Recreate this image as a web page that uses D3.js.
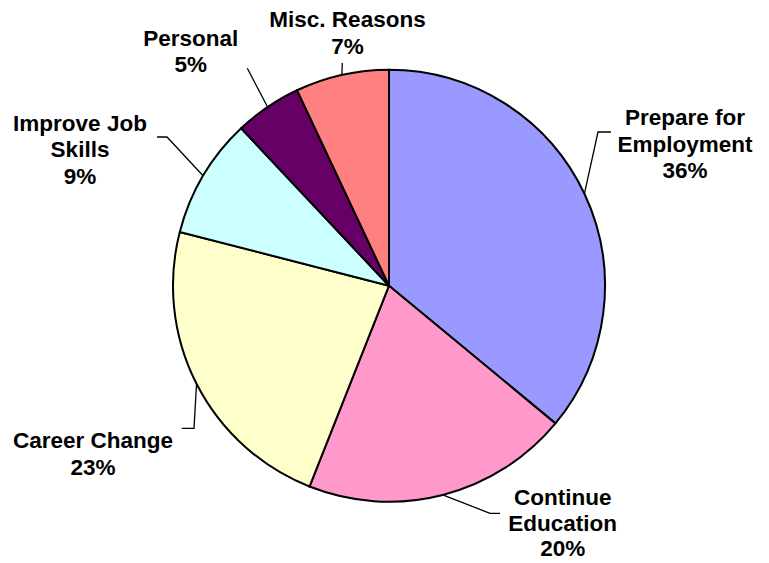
<!DOCTYPE html>
<html>
<head>
<meta charset="utf-8">
<script src="https://cdn.jsdelivr.net/npm/d3@7/dist/d3.min.js"></script>
<style>
  html, body { margin: 0; padding: 0; background: #fff; }
  svg { display: block; }
  text { font-family: "Liberation Sans", Arial, sans-serif; font-weight: bold; font-size: 22.5px; fill: #000; }
</style>
</head>
<body>
<svg id="chart" width="769" height="563"></svg>
<script>
// Data
const categories = ["Prepare for Employment", "Continue Education", "Career Change", "Improve Job Skills", "Personal", "Misc. Reasons"];
const values = [36, 20, 23, 9, 5, 7];
const labelLines = [["Prepare for", "Employment"], ["Continue", "Education"], ["Career Change"], ["Improve Job", "Skills"], ["Personal"], ["Misc. Reasons"]];
const colors = ["#9999FF", "#FF99CC", "#FFFFCC", "#CCFFFF", "#660066", "#FF8080"];

// Layout (label placement, relative to pie centre)
const W = 769, H = 563;
const cx = 389, cy = 285.7, R = 216;
const labelLayout = [
  { tx: 296, ty: -160.7, lh: 26.5, leader: [[209, -153.7], [222, -153.7]] },
  { tx: 173.7, ty: 219.5, lh: 25.5, leader: [[101, 227.6], [111, 227.6]] },
  { tx: -296, ty: 162.6, lh: 26.5, leader: [[-195, 142.6], [-207.3, 142.6]] },
  { tx: -309, ty: -155, lh: 26.5, leader: [[-222, -148.7], [-232, -148.7]] },
  { tx: -198.3, ty: -240, lh: 26.5, leader: [[-141.7, -217.4]] },
  { tx: -41.5, ty: -258.4, lh: 26.5, leader: [[-46.7, -222.7]] }
];

const svg = d3.select("#chart");
const g = svg.append("g").attr("transform", `translate(${cx},${cy})`);

const data = categories.map((c, i) => ({ name: c, value: values[i], color: colors[i], lines: labelLines[i], layout: labelLayout[i] }));

const pie = d3.pie().sort(null).value(d => d.value).startAngle(0).endAngle(2 * Math.PI);
const arc = d3.arc().innerRadius(0).outerRadius(R);
const arcs = pie(data);

g.selectAll("path.slice")
  .data(arcs)
  .enter().append("path")
  .attr("class", "slice")
  .attr("d", arc)
  .attr("fill", d => d.data.color)
  .attr("stroke", "#000")
  .attr("stroke-width", 2)
  .attr("stroke-linejoin", "round");

const total = d3.sum(values);

// Leader lines
arcs.forEach(a => {
  const mid = (a.startAngle + a.endAngle) / 2;
  const p0 = [R * Math.sin(mid), -R * Math.cos(mid)];
  const pts = [p0].concat(a.data.layout.leader);
  g.append("path")
    .attr("d", d3.line()(pts))
    .attr("fill", "none")
    .attr("stroke", "#000")
    .attr("stroke-width", 1.3);
});

// Labels
arcs.forEach(a => {
  const L = a.data.layout;
  const lines = a.data.lines.concat([Math.round(a.data.value / total * 100) + "%"]);
  const t = g.append("text")
    .attr("text-anchor", "middle")
    .attr("x", L.tx)
    .attr("y", L.ty);
  lines.forEach((ln, i) => {
    t.append("tspan").attr("x", L.tx).attr("y", L.ty + i * L.lh).text(ln);
  });
});
</script>
</body>
</html>
